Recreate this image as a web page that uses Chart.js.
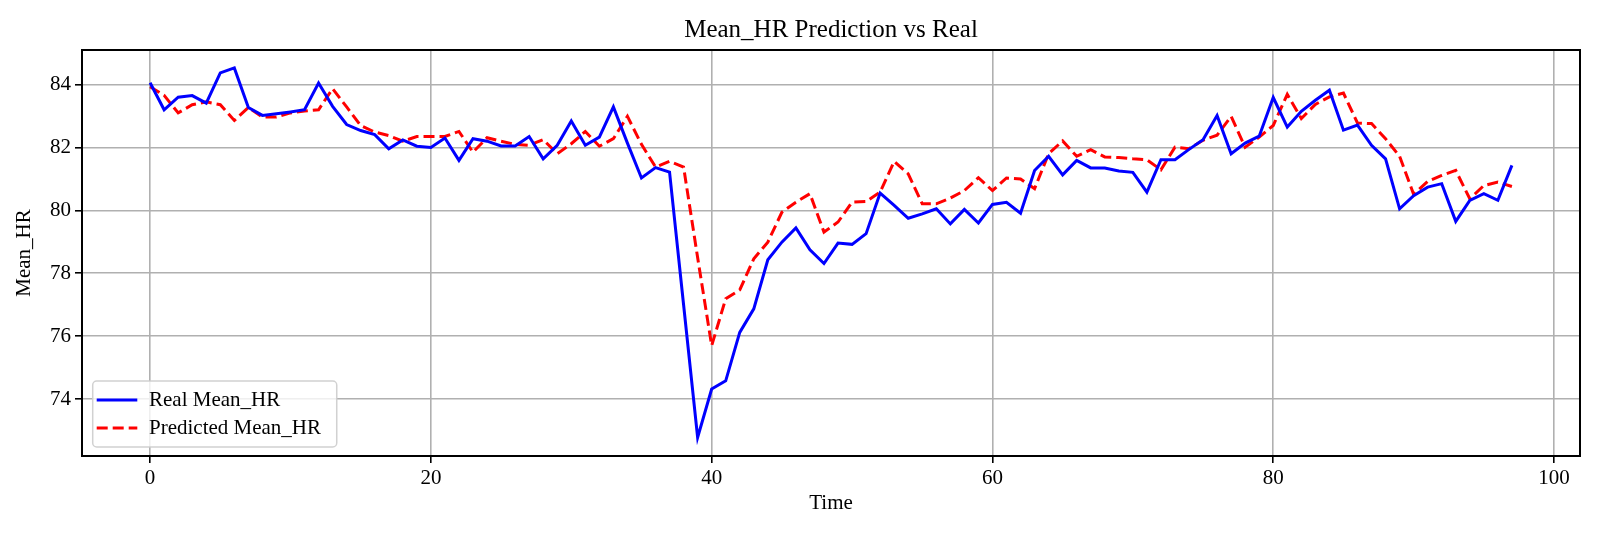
<!DOCTYPE html>
<html>
<head>
<meta charset="utf-8">
<title>Mean_HR Prediction vs Real</title>
<script src="https://cdn.jsdelivr.net/npm/chart.js@4.4.1/dist/chart.umd.min.js"></script>
<style>
  body { margin: 0; background: #fff; }
  #wrap { width: 1600px; height: 533px; }
</style>
</head>
<body>
<div id="wrap"><canvas id="grafico" width="1600" height="533"></canvas></div>
<script>
// dados
const tempo = [
  0, 1, 2, 3, 4, 5, 6, 7, 8, 9, 10, 11, 12, 13, 14, 15, 16, 17, 18, 19,
  20, 21, 22, 23, 24, 25, 26, 27, 28, 29, 30, 31, 32, 33, 34, 35, 36, 37, 38, 39,
  40, 41, 42, 43, 44, 45, 46, 47, 48, 49, 50, 51, 52, 53, 54, 55, 56, 57, 58, 59,
  60, 61, 62, 63, 64, 65, 66, 67, 68, 69, 70, 71, 72, 73, 74, 75, 76, 77, 78, 79,
  80, 81, 82, 83, 84, 85, 86, 87, 88, 89, 90, 91, 92, 93, 94, 95, 96, 97
];

const realHR = [
  84.06, 83.20, 83.60, 83.65, 83.41, 84.37, 84.53, 83.27, 83.02, 83.07,
  83.13, 83.20, 84.05, 83.31, 82.73, 82.54, 82.41, 81.96, 82.24, 82.04,
  82.00, 82.30, 81.59, 82.28, 82.20, 82.05, 82.05, 82.35, 81.64, 82.07,
  82.84, 82.07, 82.33, 83.29, 82.14, 81.03, 81.36, 81.22, 77.00, 72.78,
  74.32, 74.58, 76.12, 76.87, 78.43, 78.99, 79.44, 78.75, 78.31, 78.96,
  78.92, 79.26, 80.55, 80.16, 79.75, 79.89, 80.05, 79.57, 80.03, 79.60,
  80.19, 80.26, 79.91, 81.27, 81.72, 81.13, 81.59, 81.35, 81.35, 81.25,
  81.21, 80.58, 81.61, 81.61, 81.94, 82.25, 83.02, 81.80, 82.14, 82.36,
  83.59, 82.65, 83.15, 83.50, 83.82, 82.55, 82.71, 82.07, 81.64, 80.05,
  80.47, 80.74, 80.85, 79.65, 80.32, 80.53, 80.32, 81.43
];

const predHR = [
  83.93, 83.66, 83.10, 83.36, 83.45, 83.36, 82.86, 83.27, 82.97, 82.97,
  83.10, 83.16, 83.20, 83.87, 83.29, 82.70, 82.49, 82.38, 82.20, 82.35,
  82.35, 82.35, 82.51, 81.85, 82.31, 82.20, 82.10, 82.07, 82.25, 81.80,
  82.12, 82.51, 82.04, 82.28, 82.99, 82.10, 81.38, 81.56, 81.38, 78.50,
  75.70, 77.19, 77.47, 78.46, 78.99, 79.94, 80.26, 80.53, 79.31, 79.63,
  80.26, 80.28, 80.58, 81.56, 81.16, 80.21, 80.21, 80.39, 80.63, 81.04,
  80.63, 81.03, 81.00, 80.69, 81.80, 82.21, 81.72, 81.93, 81.70, 81.68,
  81.64, 81.61, 81.29, 82.01, 81.96, 82.23, 82.39, 82.99, 82.01, 82.33,
  82.70, 83.69, 82.92, 83.37, 83.61, 83.73, 82.78, 82.76, 82.28, 81.72,
  80.51, 80.92, 81.11, 81.27, 80.37, 80.79, 80.90, 80.76
];

const ticksX = [0, 20, 40, 60, 80, 100];
const ticksY = [74, 76, 78, 80, 82, 84];

const fonte = "'Liberation Serif', 'Times New Roman', serif";
Chart.defaults.font.family = fonte;
Chart.defaults.color = '#000';

// moldura dos eixos + legenda no canto inferior esquerdo
const moldura = {
  id: 'moldura',
  afterDraw(chart) {
    const { ctx, chartArea: a } = chart;
    ctx.save();
    ctx.strokeStyle = '#000';
    ctx.lineWidth = 2;
    ctx.strokeRect(a.left, a.top, a.right - a.left, a.bottom - a.top);

    // legenda
    ctx.font = '21px ' + fonte;
    const sets = chart.data.datasets;
    const larguraTxt = Math.max(...sets.map(d => ctx.measureText(d.label).width));
    const bx = a.left + 10.7;
    const bw = 56 + larguraTxt + 16;
    const bh = 66;
    const by = a.bottom - 9 - bh;

    ctx.beginPath();
    ctx.roundRect(bx, by, bw, bh, 4);
    ctx.fillStyle = 'rgba(255,255,255,0.8)';
    ctx.fill();
    ctx.strokeStyle = 'rgba(204,204,204,0.9)';
    ctx.lineWidth = 1.5;
    ctx.stroke();

    sets.forEach((d, i) => {
      const cy = by + 19 + i * 28;
      ctx.beginPath();
      ctx.setLineDash(d.borderDash || []);
      ctx.strokeStyle = d.borderColor;
      ctx.lineWidth = d.borderWidth;
      ctx.moveTo(bx + 4, cy);
      ctx.lineTo(bx + 44.6, cy);
      ctx.stroke();
      ctx.setLineDash([]);
      ctx.fillStyle = '#000';
      ctx.textAlign = 'left';
      ctx.textBaseline = 'middle';
      ctx.fillText(d.label, bx + 56.3, cy);
    });
    ctx.restore();
  }
};

new Chart(document.getElementById('grafico'), {
  type: 'line',
  data: {
    labels: tempo,
    datasets: [
      {
        label: 'Real Mean_HR',
        data: realHR,
        borderColor: '#0000ff',
        borderWidth: 3,
        pointRadius: 0,
        tension: 0,
        fill: false
      },
      {
        label: 'Predicted Mean_HR',
        data: predHR,
        borderColor: '#ff0000',
        borderWidth: 3,
        borderDash: [11, 5],
        pointRadius: 0,
        tension: 0,
        fill: false
      }
    ]
  },
  options: {
    responsive: false,
    animation: false,
    layout: { padding: { top: 0, left: 0, right: 20, bottom: 0 } },
    plugins: {
      legend: { display: false },
      tooltip: { enabled: false },
      title: {
        display: true,
        text: 'Mean_HR Prediction vs Real',
        fullSize: false,
        color: '#000',
        font: { size: 25, weight: 'normal', lineHeight: 1.2 },
        padding: { top: 15, bottom: 5 }
      }
    },
    scales: {
      x: {
        type: 'linear',
        min: -4.85,
        max: 101.85,
        afterBuildTicks: s => { s.ticks = ticksX.map(v => ({ value: v })); },
        afterFit: s => { s.height = 77; },
        border: { display: false },
        grid: { color: '#b0b0b0', lineWidth: 1.6, tickColor: '#000', tickLength: 7, tickWidth: 1.6 },
        ticks: { padding: 3, font: { size: 21 }, color: '#000', maxRotation: 0 },
        title: { display: true, text: 'Time', font: { size: 21 }, padding: { top: 17, bottom: 17 } }
      },
      y: {
        min: 72.19,
        max: 85.1,
        afterBuildTicks: s => { s.ticks = ticksY.map(v => ({ value: v })); },
        afterFit: s => { s.width = 82; },
        border: { display: false },
        grid: { color: '#b0b0b0', lineWidth: 1.6, tickColor: '#000', tickLength: 7, tickWidth: 1.6 },
        ticks: { padding: 4, font: { size: 21 }, color: '#000' },
        title: { display: true, text: 'Mean_HR', font: { size: 21 }, padding: { top: 12, bottom: 12 } }
      }
    }
  },
  plugins: [moldura]
});
</script>
</body>
</html>
